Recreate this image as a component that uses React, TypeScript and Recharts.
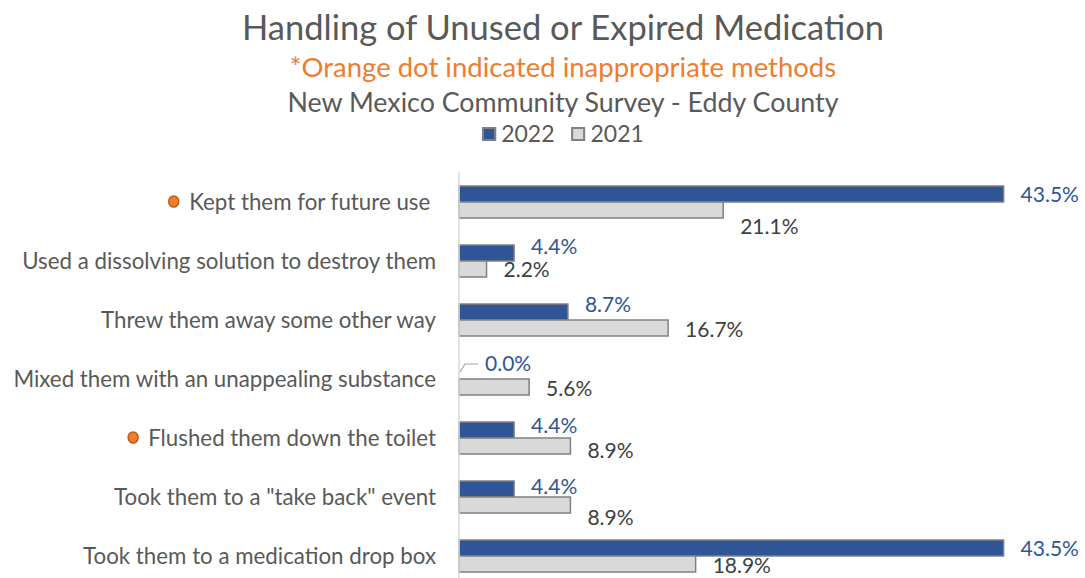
import React from 'react';
import { BarChart, Bar, XAxis, YAxis, LabelList, Cell } from 'recharts';

const categories = [
  'Kept them for future use ',
  'Used a dissolving solution to destroy them',
  'Threw them away some other way',
  'Mixed them with an unappealing substance',
  'Flushed them down the toilet',
  'Took them to a "take back" event',
  'Took them to a medication drop box',
];
const values2022 = [43.5, 4.4, 8.7, 0.0, 4.4, 4.4, 43.5];
const values2021 = [21.1, 2.2, 16.7, 5.6, 8.9, 8.9, 18.9];
const inappropriate = [true, false, false, false, true, false, false];
const seriesNames = ['2022', '2021'];
const xDomain = [0, 50];

const titleText = 'Handling of Unused or Expired Medication';
const noteText = '*Orange dot indicated inappropriate methods';
const subtitleText = 'New Mexico Community Survey - Eddy County';

// label nudges (style only)
const nudge2022 = [0, -7, -8, -8, -5, -3, 0];
const nudge2021 = [16, 0, 1, 1, 4, 12, 1];

const FONT = 'Lato, "Open Sans", sans-serif';
const BLUE = '#2F5597';
const GRAY = '#D9D9D9';
const BORDER = '#808080';
const TEXT = '#595959';
const ORANGE = '#ED7D31';

const data = categories.map((c, i) => ({
  category: c,
  v2022: values2022[i],
  v2021: values2021[i],
}));

let ctx: CanvasRenderingContext2D | null = null;
function measure(text: string, font: string) {
  if (!ctx) ctx = document.createElement('canvas').getContext('2d');
  if (!ctx) return text.length * 9;
  ctx.font = font;
  return ctx.measureText(text).width;
}

const TICK_SIZE = 22.3;

const CategoryTick = (props: any) => {
  const { x, y, payload } = props;
  const label: string = payload.value;
  const idx = categories.indexOf(label);
  const flagged = inappropriate[idx];
  const w = measure(label, `${TICK_SIZE}px Lato`);
  return (
    <g>
      {flagged && (
        <ellipse cx={x - w - 15} cy={y} rx={5} ry={5.5} fill={ORANGE} stroke="#C55A11" strokeWidth={1.5} />
      )}
      <text x={x} y={y} dy="0.36em" textAnchor="end" fill={TEXT} fontSize={TICK_SIZE} fontFamily={FONT} style={{ whiteSpace: 'pre' }}>
        {label}
      </text>
    </g>
  );
};

const makeLabel = (color: string, nudges: number[]) => (props: any) => {
  const { x, y, width, height, value, index } = props;
  const v = Number(value);
  const cy = y + height / 2 + nudges[index];
  const txt = `${v.toFixed(1)}%`;
  if (v === 0) {
    const startX = x;
    const tx = startX + 26;
    return (
      <g>
        <polyline points={`${startX + 1},${cy + 9} ${startX + 6},${cy + 1} ${startX + 19},${cy + 1}`} fill="none" stroke="#A6A6A6" strokeWidth={1.2} />
        <text x={tx} y={cy} dy="0.36em" fill={color} fontSize={21} fontFamily={FONT}>{txt}</text>
      </g>
    );
  }
  const endX = x + width;
  return (
    <text x={endX + 17} y={cy} dy="0.36em" fill={color} fontSize={21} fontFamily={FONT}>{txt}</text>
  );
};

const centered = (top: number, size: number, color: string): React.CSSProperties => ({
  position: 'absolute',
  left: 563,
  top,
  transform: 'translateX(-50%)',
  whiteSpace: 'nowrap',
  fontFamily: FONT,
  fontSize: size,
  lineHeight: `${size * 1.2}px`,
  color,
});

export default function App() {
  const colors = [BLUE, GRAY];
  return (
    <div style={{ position: 'fixed', left: 0, top: 0, width: 1085, height: 578, overflow: 'hidden', background: '#fff' }}>
      <div style={centered(6, 34.5, TEXT)}>{titleText}</div>
      <div style={centered(50, 27.5, ORANGE)}>{noteText}</div>
      <div style={centered(86, 26.8, TEXT)}>{subtitleText}</div>
      <div style={{ ...centered(120, 23, TEXT), display: 'flex', alignItems: 'center', gap: 17 }}>
        {seriesNames.map((n, i) => (
          <span key={n} style={{ display: 'inline-flex', alignItems: 'center', gap: 5 }}>
            <span style={{ display: 'inline-block', width: 10, height: 10, background: colors[i], border: `2px solid ${BORDER}` }} />
            <span>{n}</span>
          </span>
        ))}
      </div>
      <div style={{ position: 'absolute', left: 0, top: 0 }}>
        <BarChart
          width={1085}
          height={600}
          data={data}
          layout="vertical"
          margin={{ top: 172, right: 0, bottom: 15, left: 0 }}
          barGap={0}
        >
          <XAxis type="number" domain={xDomain} hide />
          <YAxis
            type="category"
            dataKey="category"
            width={459}
            tickLine={false}
            axisLine={{ stroke: '#D9D9D9', strokeWidth: 1.5 }}
            tickSize={6}
            tickMargin={17}
            interval={0}
            tick={<CategoryTick />}
          />
          <Bar dataKey="v2022" name={seriesNames[0]} fill={BLUE} stroke={BORDER} strokeWidth={1.5} barSize={16} minPointSize={0.5} isAnimationActive={false}>
            {values2022.map((v, i) => (
              <Cell key={i} fill={v === 0 ? 'none' : BLUE} stroke={v === 0 ? 'none' : BORDER} />
            ))}
            <LabelList dataKey="v2022" content={makeLabel(BLUE, nudge2022)} />
          </Bar>
          <Bar dataKey="v2021" name={seriesNames[1]} fill={GRAY} stroke={BORDER} strokeWidth={1.5} barSize={16} isAnimationActive={false}>
            <LabelList dataKey="v2021" content={makeLabel('#404040', nudge2021)} />
          </Bar>
        </BarChart>
      </div>
    </div>
  );
}
